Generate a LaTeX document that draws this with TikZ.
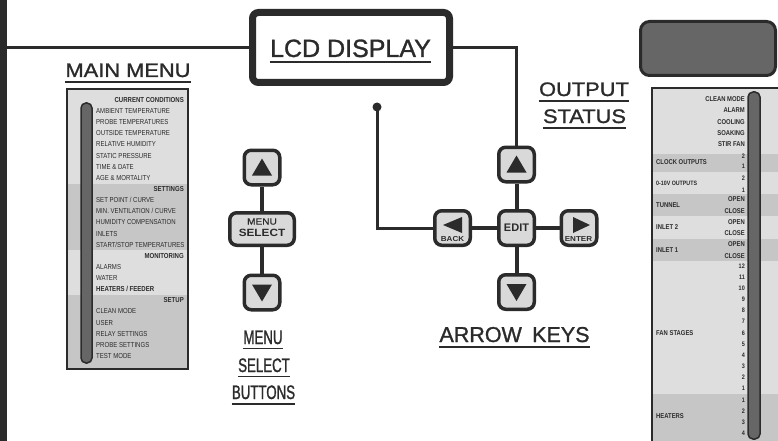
\documentclass[tikz,border=0pt]{standalone}
\usepackage{fontspec}
\setmainfont{Liberation Sans}
\newfontfamily\pnl{Liberation Sans}[FakeStretch=0.84]
\newfontfamily\pnlb{Liberation Sans}[FakeStretch=0.84,UprightFont=*-Bold]
\newfontfamily\cnd{Liberation Sans}[FakeStretch=0.68,FakeBold=1.2]
\newfontfamily\wid{Liberation Sans}[FakeStretch=1.12,FakeBold=1.2]
\newfontfamily\ttl{Liberation Sans}[FakeBold=1.2]
\newfontfamily\wsmall{Liberation Sans}[FakeStretch=1.12,UprightFont=*-Bold]
\newfontfamily\wreg{Liberation Sans}[FakeStretch=1.12,FakeBold=0.5]
\usetikzlibrary{calc}
\definecolor{ink}{HTML}{2B2B2B}
\definecolor{btn}{HTML}{D9D9D9}
\definecolor{bandL}{HTML}{DEDEDE}
\definecolor{bandD}{HTML}{C6C6C6}
\definecolor{slider}{HTML}{666666}
\begin{document}
\begin{tikzpicture}[x=1pt,y=-1pt,
  wire/.style={draw=ink,line width=3pt},
  keywire/.style={draw=ink,line width=4pt},
  key/.style={draw=ink,fill=btn,line width=3.5pt,rounded corners=7pt,minimum width=35.5pt,minimum height=34.5pt,inner sep=0pt},
  title/.style={inner sep=0pt,anchor=base,text=ink},
  uline/.style={draw=ink,line width=1.3pt},
  mitem/.style={inner sep=0pt,text=ink,anchor=west,font=\pnl\fontsize{7.2}{8}\selectfont},
  mhead/.style={inner sep=0pt,text=ink,anchor=east,font=\pnlb\fontsize{7.2}{8}\selectfont},
  oval/.style={inner sep=0pt,text=ink,anchor=east,font=\pnlb\fontsize{7}{8}\selectfont},
  onum/.style={inner sep=0pt,text=ink,anchor=east,font=\pnlb\fontsize{6.5}{8}\selectfont},
  olab/.style={inner sep=0pt,text=ink,anchor=west,font=\pnlb\fontsize{7}{8}\selectfont},
  panelframe/.style={draw=ink,line width=2pt},
  bar/.style={draw=ink,fill=slider,line width=1.5pt,rounded corners=5pt}
]
\clip (0,0) rectangle (778,441);
\fill[white] (0,0) rectangle (778,441);

% left black bar
\node[fill=ink,inner sep=0pt,minimum width=7pt,minimum height=441pt,anchor=north west] (leftbar) at (0,0) {};

% LCD display
\node[draw=ink,fill=white,line width=7pt,rounded corners=6pt,minimum width=197pt,minimum height=70pt] (lcd) at (351,47.5) {};
\node[title,font=\ttl\fontsize{25}{28}\selectfont] (lcdt) at (350.5,57) {LCD DISPLAY};
\draw[uline] ([yshift=-5pt]lcdt.base west) -- ([yshift=-5pt]lcdt.base east);

% right dark display
\node[draw=ink,fill=slider,line width=3pt,rounded corners=9pt,minimum width=135pt,minimum height=54pt] (disp) at (708,48.5) {};

% titles
\node[title,font=\wid\fontsize{19.5}{22}\selectfont] (tmain) at (128,77) {MAIN MENU};
\draw[uline] ([yshift=-5pt]tmain.base west) -- ([yshift=-5pt]tmain.base east);
\node[title,font=\wid\fontsize{19.5}{22}\selectfont] (tout) at (584,96) {OUTPUT};
\draw[uline] ([yshift=-5pt]tout.base west) -- ([yshift=-5pt]tout.base east);
\node[title,font=\wid\fontsize{19.5}{22}\selectfont] (tstat) at (584.5,123) {STATUS};
\draw[uline] ([yshift=-5pt]tstat.base west) -- ([yshift=-5pt]tstat.base east);
\node[title,font=\cnd\fontsize{19.5}{22}\selectfont] (tmenu) at (263,344) {MENU};
\draw[uline] ([yshift=-4.5pt]tmenu.base west) -- ([yshift=-4.5pt]tmenu.base east);
\node[title,font=\cnd\fontsize{19.5}{22}\selectfont] (tsel) at (264,372) {SELECT};
\draw[uline] ([yshift=-4.5pt]tsel.base west) -- ([yshift=-4.5pt]tsel.base east);
\node[title,font=\cnd\fontsize{19.5}{22}\selectfont] (tbut) at (263.5,399) {BUTTONS};
\draw[uline] ([yshift=-5pt]tbut.base west) -- ([yshift=-5pt]tbut.base east);
\node[title,font=\ttl\fontsize{21.5}{24}\selectfont] (tarrow) at (514.5,342) {ARROW\hspace{0.2em} KEYS};
\draw[uline] ([yshift=-5pt]tarrow.base west) -- ([yshift=-5pt]tarrow.base east);

% main menu panel
\fill[bandL] (67,89) rectangle (188,183.5);
\fill[bandD] (67,183.5) rectangle (188,250.2);
\fill[bandL] (67,250.2) rectangle (188,294.8);
\fill[bandD] (67,294.8) rectangle (188,369);
\draw[panelframe] (67,89) rectangle (188,369);
\draw[bar] (81,103) rectangle (92,363);

\node[mhead] (h0) at (184,100) {CURRENT CONDITIONS};
\node[mitem] (m1) at (96,111.1) {AMBIENT TEMPERATURE};
\node[mitem] (m2) at (96,122.3) {PROBE TEMPERATURES};
\node[mitem] (m3) at (96,133.4) {OUTSIDE TEMPERATURE};
\node[mitem] (m4) at (96,144.5) {RELATIVE HUMIDITY};
\node[mitem] (m5) at (96,155.7) {STATIC PRESSURE};
\node[mitem] (m6) at (96,166.8) {TIME \& DATE};
\node[mitem] (m7) at (96,177.9) {AGE \& MORTALITY};
\node[mhead] (h1) at (184,189) {SETTINGS};
\node[mitem] (m9) at (96,200.2) {SET POINT / CURVE};
\node[mitem] (m10) at (96,211.3) {MIN. VENTILATION / CURVE};
\node[mitem] (m11) at (96,222.4) {HUMIDITY COMPENSATION};
\node[mitem] (m12) at (96,233.6) {INLETS};
\node[mitem] (m13) at (96,244.7) {START/STOP TEMPERATURES};
\node[mhead] (h2) at (184,255.8) {MONITORING};
\node[mitem] (m15) at (96,267) {ALARMS};
\node[mitem] (m16) at (96,278.1) {WATER};
\node[mitem,font=\pnlb\fontsize{7.2}{8}\selectfont] (m17) at (96,289.2) {HEATERS / FEEDER};
\node[mhead] (h3) at (184,300.3) {SETUP};
\node[mitem] (m19) at (96,311.5) {CLEAN MODE};
\node[mitem] (m20) at (96,322.6) {USER};
\node[mitem] (m21) at (96,333.7) {RELAY SETTINGS};
\node[mitem] (m22) at (96,344.9) {PROBE SETTINGS};
\node[mitem] (m23) at (96,356) {TEST MODE};

% output status panel
\fill[bandL] (652,88) rectangle (800,154);
\fill[bandD] (652,154) rectangle (800,172.3);
\fill[bandL] (652,172.3) rectangle (800,194.3);
\fill[bandD] (652,194.3) rectangle (800,215.5);
\fill[bandL] (652,215.5) rectangle (800,238.7);
\fill[bandD] (652,238.7) rectangle (800,261);
\fill[bandL] (652,261) rectangle (800,394);
\fill[bandD] (652,394) rectangle (800,460);
\draw[panelframe] (652,88) rectangle (800,460);
\draw[bar] (748,92) rectangle (760,439);

\node[oval] (o1) at (745,99.3) {CLEAN MODE};
\node[oval] (o2) at (745,110.5) {ALARM};
\node[oval] (o3) at (745,122) {COOLING};
\node[oval] (o4) at (745,133) {SOAKING};
\node[oval] (o5) at (745,144.3) {STIR FAN};
\node[onum] (c2) at (745,156.5) {2};
\node[onum] (c1) at (745,166.5) {1};
\node[olab] (lc) at (656,162) {CLOCK OUTPUTS};
\node[onum] (v2) at (745,178) {2};
\node[onum] (v1) at (745,190) {1};
\node[olab,font=\pnlb\fontsize{6.3}{8}\selectfont] (lv) at (656,183.5) {0-10V OUTPUTS};
\node[oval] (to) at (745,199.5) {OPEN};
\node[oval] (tc) at (745,210.7) {CLOSE};
\node[olab] (lt) at (656,205) {TUNNEL};
\node[oval] (i2o) at (745,221.7) {OPEN};
\node[oval] (i2c) at (745,233.3) {CLOSE};
\node[olab] (li2) at (656,227) {INLET 2};
\node[oval] (i1o) at (745,244) {OPEN};
\node[oval] (i1c) at (745,255.7) {CLOSE};
\node[olab] (li1) at (656,250) {INLET 1};
\foreach \n [count=\k from 0] in {12,11,10,9,8,7,6,5,4,3,2,1}{
  \node[onum] (f\n) at (745,266.5+11.05*\k) {\n};
}
\node[olab] (lf) at (656,333) {FAN STAGES};
\foreach \n [count=\k from 0] in {1,2,3,4}{
  \node[onum] (ht\n) at (745,400+11*\k) {\n};
}
\node[olab] (lh) at (656,416.5) {HEATERS};

% menu select buttons
\node[key] (mup) at (262,167.5) {};
\node[key,minimum width=64.5pt,minimum height=32.5pt] (msel) at (262,229) {};
\node[key] (mdown) at (262,292.5) {};
\draw[keywire] (mup.south) -- (msel.north);
\draw[keywire] (msel.south) -- (mdown.north);
\fill[ink] ($(mup)+(-10,8)$) -- ($(mup)+(10,8)$) -- ($(mup)+(0,-9)$) -- cycle;
\fill[ink] ($(mdown)+(-10,-8)$) -- ($(mdown)+(10,-8)$) -- ($(mdown)+(0,9)$) -- cycle;
\node[inner sep=0pt,text=ink,font=\wreg\fontsize{9}{10}\selectfont] (mseltop) at (262,221.5) {MENU};
\node[inner sep=0pt,text=ink,font=\wsmall\fontsize{10.5}{12}\selectfont] (mselbot) at (262,232.5) {SELECT};

% arrow keys
\node[key] (aup) at (516.5,164.5) {};
\node[key] (edit) at (516.5,228) {};
\node[key] (adown) at (516.5,292) {};
\node[key] (back) at (452.5,228) {};
\node[key] (enter) at (579,228) {};
\draw[keywire] (aup.south) -- (edit.north);
\draw[keywire] (edit.south) -- (adown.north);
\draw[keywire] (back.east) -- (edit.west);
\draw[keywire] (edit.east) -- (enter.west);
\fill[ink] ($(aup)+(-10,8)$) -- ($(aup)+(10,8)$) -- ($(aup)+(0,-9)$) -- cycle;
\fill[ink] ($(adown)+(-10,-8)$) -- ($(adown)+(10,-8)$) -- ($(adown)+(0,9)$) -- cycle;
\fill[ink] ($(back)+(-9.5,-3)$) -- ($(back)+(9.5,-11)$) -- ($(back)+(9.5,5)$) -- cycle;
\fill[ink] ($(enter)+(11,-3)$) -- ($(enter)+(-6,-11)$) -- ($(enter)+(-6,5)$) -- cycle;
\node[inner sep=0pt,text=ink,font=\fontsize{11}{12}\selectfont\bfseries] (editt) at (516.5,228) {EDIT};
\node[inner sep=0pt,text=ink,font=\wsmall\fontsize{7.2}{8}\selectfont] (backt) at (452.5,239.5) {BACK};
\node[inner sep=0pt,text=ink,font=\wsmall\fontsize{7.2}{8}\selectfont] (entert) at (578.5,239.5) {ENTER};

% connectors to LCD
\draw[wire] (leftbar.east |- lcd.west) -- (lcd.west);
\draw[wire] (lcd.east) -| (aup.north);
\coordinate (dot) at (377,107);
\draw[wire] (dot) |- (back.west);
\fill[ink] (dot) circle[radius=4.5pt];
\end{tikzpicture}
\end{document}
